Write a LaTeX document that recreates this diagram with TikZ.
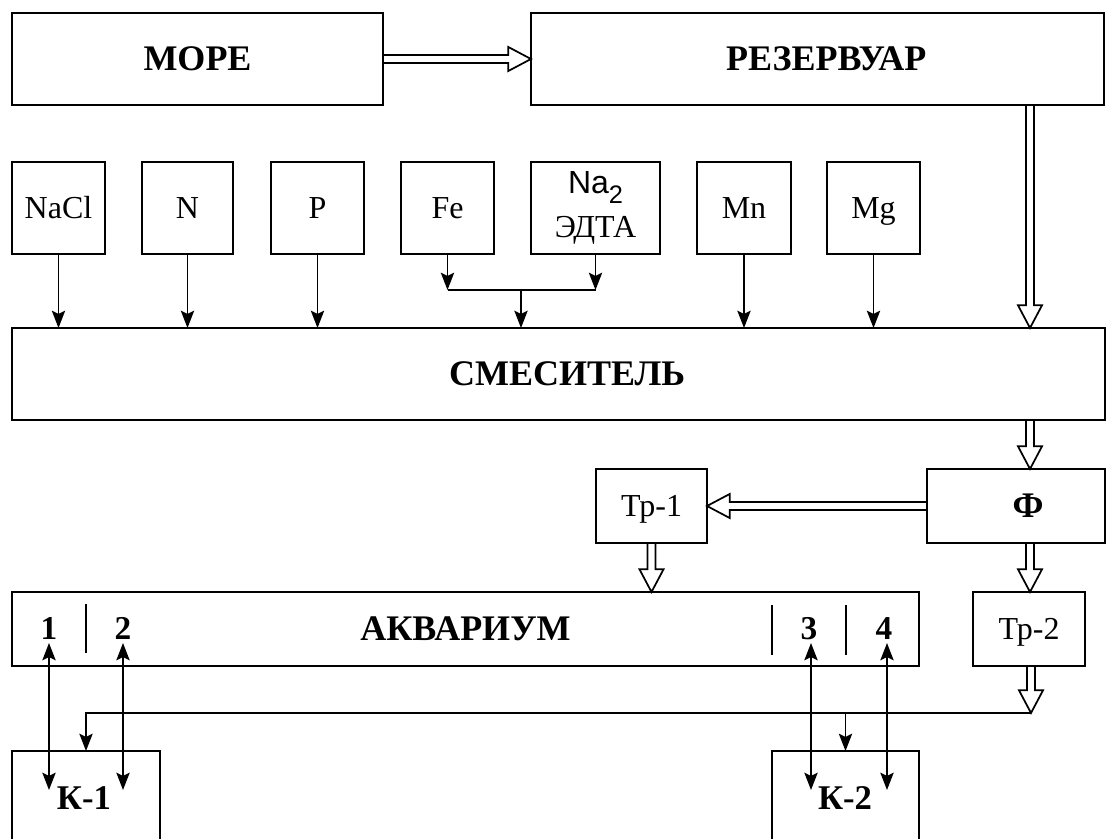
\documentclass[tikz,border=0pt]{standalone}
\usepackage{fontspec}
\setmainfont{Liberation Serif}
\setsansfont{Liberation Sans}
\usetikzlibrary{arrows.meta,calc}
\newcommand{\bx}[7][box]{\node[#1,minimum width={0.75pt*(#5-#3)},minimum height={0.75pt*(#6-#4)}] (#2) at ({(#3+#5)/2},{(#4+#6)/2}) {#7};}
\newcommand{\hdown}[2]{\draw[hol] let \p1=(#1),\p2=(#2) in (\x1-3pt,\y1) -- (\x1-3pt,\y2+17pt) -- (\x1-9pt,\y2+17pt) -- (\x1,\y2) -- (\x1+9pt,\y2+17pt) -- (\x1+3pt,\y2+17pt) -- (\x1+3pt,\y1) -- cycle;}
\newcommand{\hright}[2]{\draw[hol] let \p1=(#1),\p2=(#2) in (\x1,\y1+3pt) -- (\x2-17pt,\y1+3pt) -- (\x2-17pt,\y1+9pt) -- (\x2,\y1) -- (\x2-17pt,\y1-9pt) -- (\x2-17pt,\y1-3pt) -- (\x1,\y1-3pt) -- cycle;}
\newcommand{\hleft}[2]{\draw[hol] let \p1=(#1),\p2=(#2) in (\x1,\y1+3pt) -- (\x2+17pt,\y1+3pt) -- (\x2+17pt,\y1+9pt) -- (\x2,\y1) -- (\x2+17pt,\y1-9pt) -- (\x2+17pt,\y1-3pt) -- (\x1,\y1-3pt) -- cycle;}
\begin{document}
\begin{tikzpicture}[x=0.75pt,y=-0.75pt,
  box/.style={draw,line width=1.3pt,inner sep=0pt,outer sep=0pt,font=\fontsize{24}{32}\selectfont,align=center},
  sbox/.style={box,text height=15.8pt,text depth=0pt},
  bigbox/.style={box,font=\fontsize{27}{32}\selectfont\bfseries,text height=17.8pt,text depth=0pt},
  tipa/.tip={Stealth[length=13pt,width=10pt,inset=2.5pt]},
  arr/.style={line width=1.3pt,-tipa},
  darr/.style={line width=1.3pt,tipa-tipa},
  ln/.style={line width=1.3pt},
  hol/.style={line width=1.3pt,draw,fill=white,line join=miter},
  lbl/.style={font=\fontsize{25}{30}\selectfont\bfseries,inner sep=0pt,text height=16.5pt,text depth=0pt},
  klbl/.style={font=\fontsize{26}{30}\selectfont\bfseries,inner sep=0pt,text height=17.2pt,text depth=0pt}
]
\useasboundingbox (0,0) rectangle (1118,839);

% main boxes
\bx[bigbox]{MORE}{12}{13}{383}{105}{МОРЕ}
\bx[bigbox]{RES}{531}{13}{1104}{105}{\hspace*{13pt}РЕЗЕРВУАР}
\bx[bigbox]{SM}{12}{328}{1105}{420}{\hspace*{13pt}СМЕСИТЕЛЬ}
\bx[sbox]{TR1}{596}{469}{707}{543}{Тр-1}
\bx[bigbox]{F}{927}{469}{1105}{543}{\hspace*{18pt}Ф}
\bx[bigbox]{AQ}{12}{592}{919}{666}{АКВАРИУМ}
\bx[sbox]{TR2}{973}{592}{1085}{666}{Тр-2}
\bx[box]{K1}{12}{751}{160}{900}{}
\bx[box]{K2}{772}{751}{919}{900}{}

% reagent boxes
\bx[sbox]{NACL}{12}{162}{105}{254}{NaCl}
\bx[sbox]{N}{142}{162}{233}{254}{N}
\bx[sbox]{P}{271}{162}{364}{254}{P}
\bx[sbox]{FE}{401}{162}{494}{254}{Fe}
\bx[box]{NA}{531}{162}{660}{254}{{\sffamily Na\raisebox{-0.3em}{\fontsize{19}{19}\selectfont 2}}\\[1pt]ЭДТА}
\bx[sbox]{MN}{697}{162}{791}{254}{Mn}
\bx[sbox]{MG}{827}{162}{920}{254}{Mg}

% labels
\node[lbl] (n1) at (49,628) {1};
\node[lbl] (n2) at (123,628) {2};
\node[lbl] (n3) at (809,628) {3};
\node[lbl] (n4) at (884,628) {4};
\node[klbl] (k1t) at (84,798) {К-1};
\node[klbl] (k2t) at (845,798) {К-2};

% coordinates
\coordinate (cx) at (1030,0);
\coordinate (mrg) at (521,290);
\coordinate (dist) at (1031,713);
\coordinate (a1) at (49,643);  \coordinate (b1) at (49,790);
\coordinate (a2) at (123,643); \coordinate (b2) at (123,790);
\coordinate (a3) at (811,643); \coordinate (b3) at (811,790);
\coordinate (a4) at (887,643); \coordinate (b4) at (887,790);

% separators in the aquarium
\draw[ln] (86,604) -- (86,653);
\draw[ln] (772,605) -- (772,655);
\draw[ln] (846,605) -- (846,655);

% hollow arrows
\hright{MORE.east}{RES.west}
\hdown{RES.south -| cx}{SM.north -| cx}
\hdown{SM.south -| cx}{F.north -| cx}
\hleft{F.west}{TR1.east}
\hdown{TR1.south}{AQ.north -| TR1.south}
\hdown{F.south -| cx}{TR2.north -| cx}
\hdown{TR2.south -| dist}{dist}

% reagent arrows
\draw[arr] (NACL.south) -- (SM.north -| NACL.south);
\draw[arr] (N.south) -- (SM.north -| N.south);
\draw[arr] (P.south) -- (SM.north -| P.south);
\draw[arr] (MN.south) -- (SM.north -| MN.south);
\draw[arr] (MG.south) -- (SM.north -| MG.south);
\draw[arr] (FE.south) -- (FE.south |- mrg);
\draw[arr] (NA.south) -- (NA.south |- mrg);
\draw[ln] (FE.south |- mrg) -- (NA.south |- mrg);
\draw[arr] (mrg) -- (SM.north -| mrg);

% distribution to the columns
\draw[arr] (dist) -| (K1.north);
\draw[arr] (K2.north |- dist) -- (K2.north);

% exchange arrows
\draw[darr] (a1) -- (b1);
\draw[darr] (a2) -- (b2);
\draw[darr] (a3) -- (b3);
\draw[darr] (a4) -- (b4);
\end{tikzpicture}
\end{document}
